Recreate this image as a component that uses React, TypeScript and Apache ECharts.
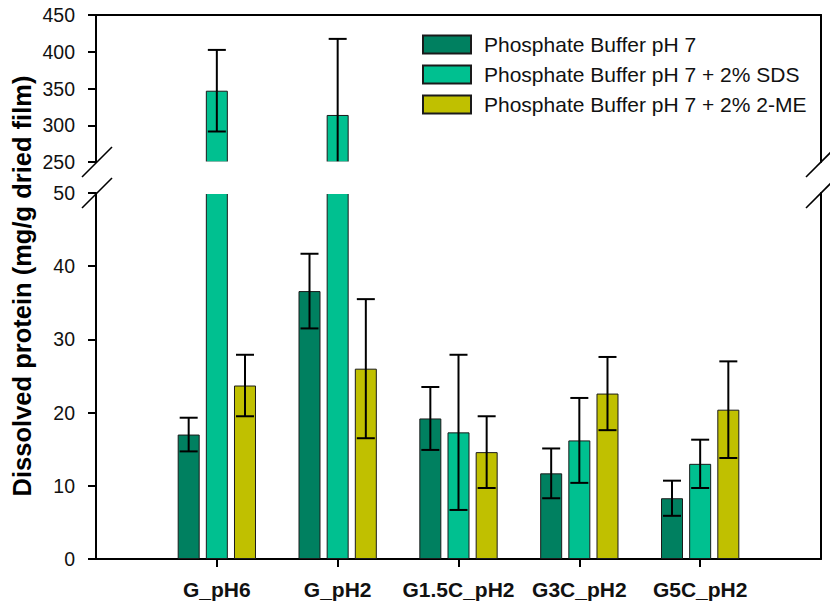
import React, { useEffect, useRef } from "react";
import * as echarts from "echarts";

const categories = ["G_pH6", "G_pH2", "G1.5C_pH2", "G3C_pH2", "G5C_pH2"];
const seriesNames = [
  "Phosphate Buffer pH 7",
  "Phosphate Buffer pH 7 + 2% SDS",
  "Phosphate Buffer pH 7 + 2% 2-ME",
];
const pbValues = [17.0, 36.6, 19.2, 11.7, 8.3];
const pbSd = [2.3, 5.1, 4.3, 3.4, 2.4];
const sdsValues = [347, 314, 17.3, 16.2, 13.0];
const sdsSd = [55.5, 103.5, 10.6, 5.8, 3.3];
const meValues = [23.7, 26.0, 14.6, 22.6, 20.4];
const meSd = [4.2, 9.5, 4.9, 5.0, 6.6];
const colors = ["#008060", "#00C090", "#C0C000"];

const upperRange = { min: 250, max: 450, interval: 50 };
const lowerRange = { min: 0, max: 50, interval: 10 };

const FONT = '"Liberation Sans", Arial, Helvetica, sans-serif';
const BAR_W = 22;
const BAR_GAP = 0.28;
const STEP = BAR_W * (1 + BAR_GAP);
const CAP = 18;

export default function App() {
  const ref = useRef<HTMLDivElement>(null);

  useEffect(() => {
    if (!ref.current) return;
    const chart = echarts.init(ref.current, null, { renderer: "svg" });

    const padCats = ["", ...categories, ""];
    const allValues = [pbValues, sdsValues, meValues];
    const allSd = [pbSd, sdsSd, meSd];

    const pad = (arr: any[]) => ["-", ...arr, "-"];

    const errData: any[] = [];
    allValues.forEach((vals, k) => {
      vals.forEach((v, i) => {
        errData.push([i + 1, v, allSd[k][i], k]);
      });
    });

    const renderErr = (params: any, api: any) => {
      const x = api.value(0);
      const v = api.value(1);
      const sd = api.value(2);
      const k = api.value(3);
      const c = api.coord([x, v]);
      const hi = api.coord([x, v + sd]);
      const lo = api.coord([x, v - sd]);
      const cx = c[0] + (k - 1) * STEP;
      const hw = CAP / 2;
      const style = { stroke: "#000", lineWidth: 2 };
      return {
        type: "group",
        children: [
          { type: "line", shape: { x1: cx, y1: hi[1], x2: cx, y2: lo[1] }, style },
          { type: "line", shape: { x1: cx - hw, y1: hi[1], x2: cx + hw, y2: hi[1] }, style },
          { type: "line", shape: { x1: cx - hw, y1: lo[1], x2: cx + hw, y2: lo[1] }, style },
        ],
      };
    };

    const axisLineStyle = { color: "#000", width: 2 };
    const labelStyle = { color: "#111", fontSize: 19.5, fontFamily: FONT };

    const barSeries: any[] = [];
    allValues.forEach((vals, k) => {
      barSeries.push({
        name: seriesNames[k],
        type: "bar",
        xAxisIndex: 0,
        yAxisIndex: 0,
        barWidth: BAR_W,
        barGap: `${BAR_GAP * 100}%`,
        data: pad(vals.map((v) => (v > upperRange.min ? v : "-"))),
        itemStyle: { color: colors[k], borderColor: "#1a1a1a", borderWidth: 1 },
        clip: true,
      });
    });
    allValues.forEach((vals, k) => {
      barSeries.push({
        name: seriesNames[k],
        type: "bar",
        xAxisIndex: 1,
        yAxisIndex: 1,
        barWidth: BAR_W,
        barGap: `${BAR_GAP * 100}%`,
        data: pad(vals),
        itemStyle: { color: colors[k], borderColor: "#1a1a1a", borderWidth: 1 },
        clip: true,
      });
    });

    const option: any = {
      animation: false,
      backgroundColor: "#fff",
      textStyle: { fontFamily: FONT },
      grid: [
        { left: 96, right: 9, top: 15, height: 147 },
        { left: 96, right: 9, top: 193, height: 366 },
      ],
      legend: {
        data: seriesNames,
        orient: "vertical",
        left: 422,
        top: 34,
        padding: 0,
        itemWidth: 48,
        itemHeight: 18,
        itemGap: 9,
        icon: "rect",
        selectedMode: false,
        textStyle: {
          color: "#111",
          fontSize: 21,
          lineHeight: 18,
          fontFamily: FONT,
          padding: [0, 0, 0, 8],
        },
      },
      xAxis: [
        {
          type: "category",
          gridIndex: 0,
          position: "top",
          data: padCats,
          boundaryGap: false,
          axisLine: { show: true, lineStyle: axisLineStyle },
          axisTick: { show: false },
          axisLabel: { show: false },
          splitLine: { show: false },
        },
        {
          type: "category",
          gridIndex: 1,
          position: "bottom",
          data: padCats,
          boundaryGap: false,
          axisLine: { show: true, lineStyle: axisLineStyle },
          axisTick: {
            show: true,
            inside: false,
            length: 8,
            lineStyle: axisLineStyle,
            interval: (index: number) => index > 0 && index < padCats.length - 1,
          },
          axisLabel: {
            interval: 0,
            margin: 20,
            color: "#111",
            fontSize: 21,
            fontWeight: "bold",
            fontFamily: FONT,
          },
          splitLine: { show: false },
        },
      ],
      yAxis: [
        {
          type: "value",
          gridIndex: 0,
          min: upperRange.min,
          max: upperRange.max,
          interval: upperRange.interval,
          axisLine: { show: true, lineStyle: axisLineStyle },
          axisTick: { show: true, length: 8, lineStyle: axisLineStyle },
          axisLabel: { ...labelStyle, margin: 21 },
          splitLine: { show: false },
        },
        {
          type: "value",
          gridIndex: 1,
          min: lowerRange.min,
          max: lowerRange.max,
          interval: lowerRange.interval,
          axisLine: { show: true, lineStyle: axisLineStyle },
          axisTick: { show: true, length: 8, lineStyle: axisLineStyle },
          axisLabel: { ...labelStyle, margin: 21 },
          splitLine: { show: false },
        },
        {
          type: "value",
          gridIndex: 0,
          position: "right",
          min: upperRange.min,
          max: upperRange.max,
          axisLine: { show: true, lineStyle: axisLineStyle },
          axisTick: { show: false },
          axisLabel: { show: false },
          splitLine: { show: false },
        },
        {
          type: "value",
          gridIndex: 1,
          position: "right",
          min: lowerRange.min,
          max: lowerRange.max,
          axisLine: { show: true, lineStyle: axisLineStyle },
          axisTick: { show: false },
          axisLabel: { show: false },
          splitLine: { show: false },
        },
      ],
      series: [
        ...barSeries,
        {
          name: "err-upper",
          type: "custom",
          xAxisIndex: 0,
          yAxisIndex: 0,
          clip: true,
          z: 5,
          data: errData,
          encode: { x: 0, y: 1 },
          renderItem: renderErr,
        },
        {
          name: "err-lower",
          type: "custom",
          xAxisIndex: 1,
          yAxisIndex: 1,
          clip: true,
          z: 5,
          data: errData,
          encode: { x: 0, y: 1 },
          renderItem: renderErr,
        },
      ],
      graphic: [
        {
          type: "rect",
          z: 100,
          shape: { x: 97, y: 161.5, width: 723, height: 32.5 },
          style: { fill: "#fff" },
        },
        {
          type: "line",
          z: 110,
          shape: { x1: 82, y1: 177, x2: 112, y2: 147 },
          style: { stroke: "#000", lineWidth: 1.6 },
        },
        {
          type: "line",
          z: 110,
          shape: { x1: 82, y1: 208, x2: 112, y2: 178 },
          style: { stroke: "#000", lineWidth: 1.6 },
        },
        {
          type: "line",
          z: 110,
          shape: { x1: 806, y1: 177, x2: 836, y2: 147 },
          style: { stroke: "#000", lineWidth: 1.6 },
        },
        {
          type: "line",
          z: 110,
          shape: { x1: 806, y1: 208, x2: 836, y2: 178 },
          style: { stroke: "#000", lineWidth: 1.6 },
        },
        {
          type: "text",
          z: 110,
          x: 22,
          y: 286,
          rotation: Math.PI / 2,
          style: {
            text: "Dissolved protein (mg/g dried film)",
            fill: "#000",
            font: `bold 25.5px ${FONT}`,
            textAlign: "center",
            textVerticalAlign: "middle",
          },
        },
      ],
    };

    chart.setOption(option);
    return () => chart.dispose();
  }, []);

  return (
    <div
      ref={ref}
      style={{ position: "fixed", left: 0, top: 0, width: 830, height: 603 }}
    />
  );
}
